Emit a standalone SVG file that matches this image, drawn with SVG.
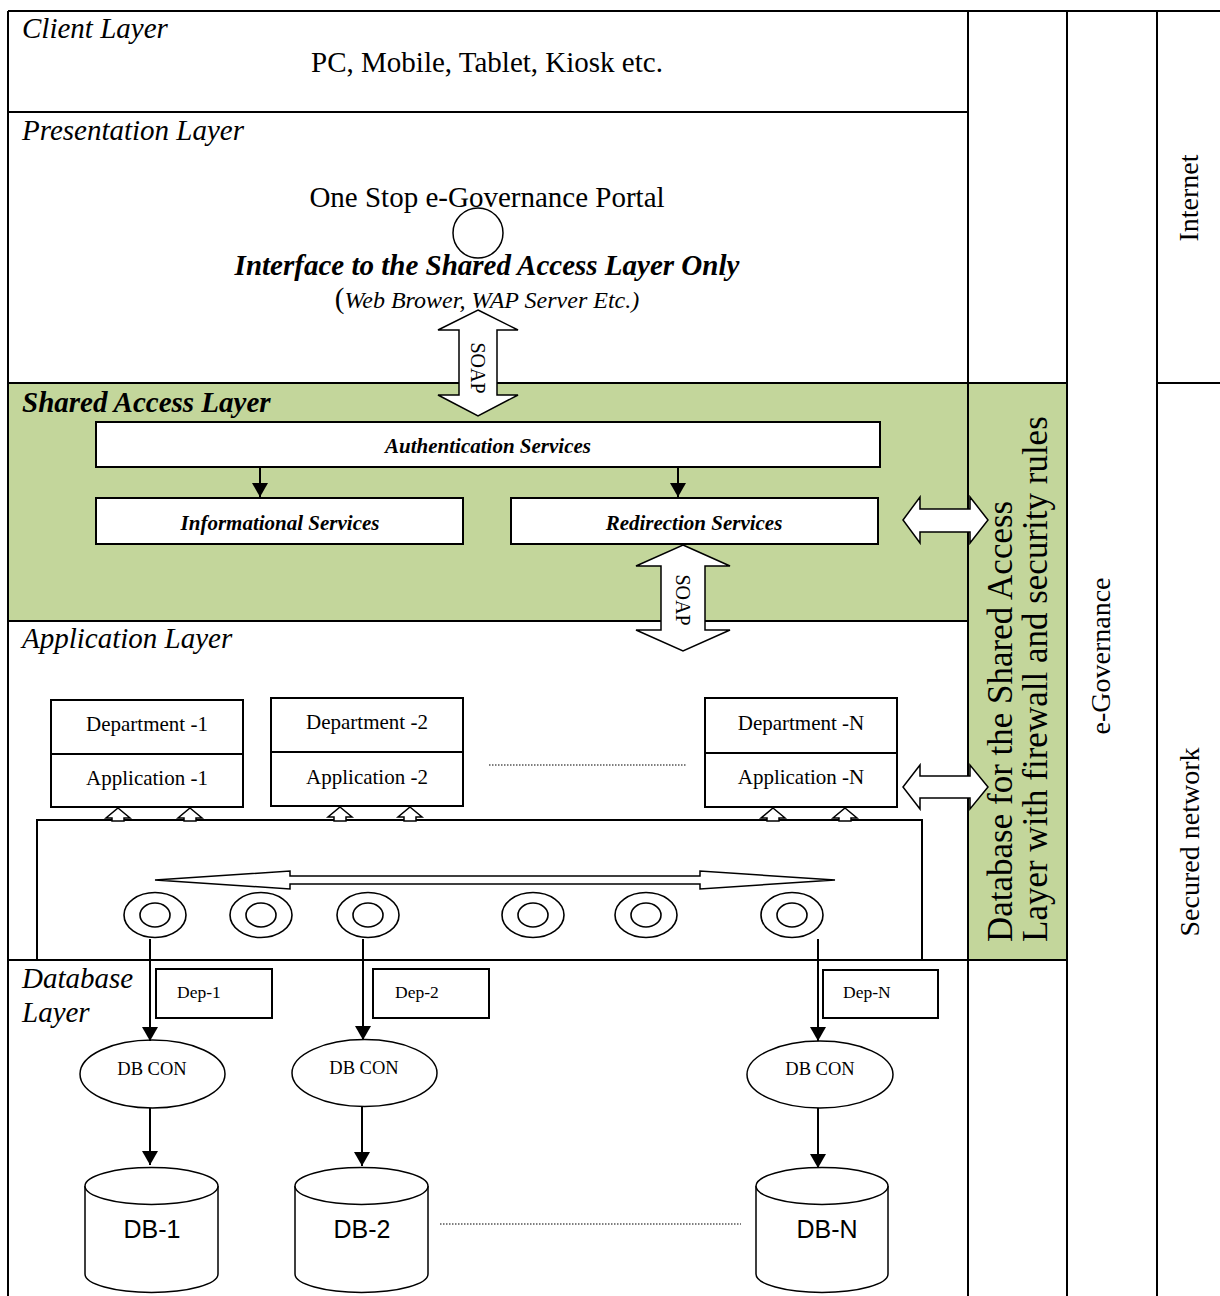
<svg xmlns="http://www.w3.org/2000/svg" width="1220" height="1296" viewBox="0 0 1220 1296">
<style>
.ser{font-family:"Liberation Serif","Times New Roman",serif;fill:#000}
.it{font-style:italic}
.bd{font-weight:bold}
.sans{font-family:"Liberation Sans",Arial,sans-serif;fill:#000}
.ln{stroke:#000;stroke-width:2;fill:none}
.bx{stroke:#000;stroke-width:2;fill:#fff}
.thin{stroke:#000;stroke-width:1.5;fill:#fff}
.dot{stroke:#000;stroke-width:1.2;stroke-dasharray:1.5 1.5;fill:none}
.conn{stroke:#000;stroke-width:2;fill:none;marker-end:url(#ah)}
</style>
<defs>
<marker id="ah" markerWidth="16" markerHeight="16" refX="14" refY="8" orient="auto" markerUnits="userSpaceOnUse">
<path d="M0,0 L14,8 L0,16 z" fill="#000"/>
</marker>
</defs>
<rect width="1220" height="1296" fill="#fff"/>

<g id="table">
<rect x="8" y="383" width="960" height="238" fill="#C3D69B"/>
<rect x="968" y="383" width="99" height="577" fill="#C3D69B"/>
<path class="ln" d="M8,11 H1220 M8,11 V1296 M968,11 V1296 M1067,11 V1296 M1157,11 V1296 M8,112 H968 M8,383 H1067 M1157,383 H1220 M8,621 H968 M8,960 H1067"/>
</g>

<g id="client-layer">
<text class="ser it" x="22" y="38" font-size="29">Client Layer</text>
<text class="ser" x="487" y="72" font-size="29" text-anchor="middle">PC, Mobile, Tablet, Kiosk etc.</text>
</g>

<g id="presentation-layer">
<text class="ser it" x="22" y="140" font-size="29">Presentation Layer</text>
<text class="ser" x="487" y="207" font-size="29" text-anchor="middle">One Stop e-Governance Portal</text>
<circle cx="478" cy="233" r="25" fill="none" stroke="#000" stroke-width="1.5"/>
<text class="ser it bd" x="487" y="275" font-size="29" text-anchor="middle">Interface to the Shared Access Layer Only</text>
<text class="ser it" x="487" y="308" font-size="24" text-anchor="middle"><tspan font-style="normal" font-size="29">(</tspan>Web Brower, WAP Server Etc.)</text>
</g>

<g id="shared-access-layer">
<text class="ser it bd" x="22" y="412" font-size="29">Shared Access Layer</text>
</g>
<g id="auth-services">
<rect class="bx" x="96" y="422" width="784" height="45"/>
<text class="ser it bd" x="488" y="453" font-size="21" text-anchor="middle">Authentication Services</text>
</g>
<g id="info-services">
<rect class="bx" x="96" y="498" width="367" height="46"/>
<text class="ser it bd" x="280" y="530" font-size="21" text-anchor="middle">Informational Services</text>
</g>
<g id="redirect-services">
<rect class="bx" x="511" y="498" width="367" height="46"/>
<text class="ser it bd" x="694" y="530" font-size="21" text-anchor="middle">Redirection Services</text>
</g>

<g id="application-layer">
<text class="ser it" x="22" y="648" font-size="29">Application Layer</text>
</g>

<g id="dept-1">
<rect class="bx" x="51" y="700" width="192" height="107"/>
<line class="ln" x1="51" y1="754" x2="243" y2="754"/>
<text class="ser" x="147" y="731" font-size="21" text-anchor="middle">Department -1</text>
<text class="ser" x="147" y="785" font-size="21" text-anchor="middle">Application -1</text>
</g>
<g id="dept-2">
<rect class="bx" x="271" y="698" width="192" height="108"/>
<line class="ln" x1="271" y1="752" x2="463" y2="752"/>
<text class="ser" x="367" y="729" font-size="21" text-anchor="middle">Department -2</text>
<text class="ser" x="367" y="784" font-size="21" text-anchor="middle">Application -2</text>
</g>
<g id="dept-n">
<rect class="bx" x="705" y="698" width="192" height="109"/>
<line class="ln" x1="705" y1="753" x2="897" y2="753"/>
<text class="ser" x="801" y="730" font-size="21" text-anchor="middle">Department -N</text>
<text class="ser" x="801" y="784" font-size="21" text-anchor="middle">Application -N</text>
</g>
<line class="dot" x1="489" y1="765" x2="687" y2="765"/>

<g id="bus">
<rect class="bx" x="37" y="820" width="885" height="140"/>
<path class="thin" d="M155,880 L290,871 L290,876 L700,876 L700,871 L835,880 L700,889 L700,884 L290,884 L290,889 Z"/>
<g fill="none" stroke="#000" stroke-width="1.6">
<ellipse cx="155" cy="915" rx="31" ry="22.5"/><ellipse cx="155" cy="915" rx="15" ry="12"/>
<ellipse cx="261" cy="915" rx="31" ry="22.5"/><ellipse cx="261" cy="915" rx="15" ry="12"/>
<ellipse cx="368" cy="915" rx="31" ry="22.5"/><ellipse cx="368" cy="915" rx="15" ry="12"/>
<ellipse cx="533" cy="915" rx="31" ry="22.5"/><ellipse cx="533" cy="915" rx="15" ry="12"/>
<ellipse cx="646" cy="915" rx="31" ry="22.5"/><ellipse cx="646" cy="915" rx="15" ry="12"/>
<ellipse cx="792" cy="915" rx="31" ry="22.5"/><ellipse cx="792" cy="915" rx="15" ry="12"/>
</g>
</g>

<g id="database-layer">
<text class="ser it" x="22" y="988" font-size="29">Database</text>
<text class="ser it" x="22" y="1022" font-size="29">Layer</text>
</g>

<g id="dep-1"><rect class="bx" x="156" y="969" width="116" height="49"/><text class="ser" x="177" y="998" font-size="17.5">Dep-1</text></g>
<g id="dep-2"><rect class="bx" x="373" y="969" width="116" height="49"/><text class="ser" x="395" y="998" font-size="17.5">Dep-2</text></g>
<g id="dep-n"><rect class="bx" x="823" y="970" width="115" height="48"/><text class="ser" x="843" y="998" font-size="17.5">Dep-N</text></g>

<g id="dbcon-1"><ellipse class="thin" cx="152.5" cy="1074" rx="72.5" ry="34"/><text class="ser" x="152" y="1075" font-size="18.5" text-anchor="middle">DB CON</text></g>
<g id="dbcon-2"><ellipse class="thin" cx="364.5" cy="1073" rx="72.5" ry="33.5"/><text class="ser" x="364" y="1074" font-size="18.5" text-anchor="middle">DB CON</text></g>
<g id="dbcon-n"><ellipse class="thin" cx="820" cy="1074.5" rx="73" ry="33.5"/><text class="ser" x="820" y="1075" font-size="18.5" text-anchor="middle">DB CON</text></g>

<g id="db-1">
<path class="thin" d="M85,1186 L85,1274 A66.5,18.5 0 0 0 218,1274 L218,1186"/>
<ellipse class="thin" cx="151.5" cy="1186" rx="66.5" ry="18.5"/>
<text class="sans" x="152" y="1238" font-size="25" text-anchor="middle">DB-1</text>
</g>
<g id="db-2">
<path class="thin" d="M295,1186 L295,1274 A66.5,18.5 0 0 0 428,1274 L428,1186"/>
<ellipse class="thin" cx="361.5" cy="1186" rx="66.5" ry="18.5"/>
<text class="sans" x="362" y="1238" font-size="25" text-anchor="middle">DB-2</text>
</g>
<g id="db-n">
<path class="thin" d="M756,1186 L756,1274 A66,18.5 0 0 0 888,1274 L888,1186"/>
<ellipse class="thin" cx="822" cy="1186" rx="66" ry="18.5"/>
<text class="sans" x="827" y="1238" font-size="25" text-anchor="middle">DB-N</text>
</g>
<line class="dot" x1="440" y1="1224" x2="741" y2="1224"/>

<g id="side-columns">
<text class="ser" transform="translate(1012,942) rotate(-90)" font-size="35">Database for the Shared Access</text>
<text class="ser" transform="translate(1047,942) rotate(-90)" font-size="35">Layer with firewall and security rules</text>
<text class="ser" transform="translate(1110,656) rotate(-90)" font-size="28" text-anchor="middle">e-Governance</text>
<text class="ser" transform="translate(1198,198) rotate(-90)" font-size="28" text-anchor="middle">Internet</text>
<text class="ser" transform="translate(1199,842) rotate(-90)" font-size="28" text-anchor="middle">Secured network</text>
</g>

<g id="connectors">
<path class="thin" d="M478,310 L518,330 L497,330 L497,395 L518,395 L478,416 L438,395 L459,395 L459,330 L438,330 Z"/>
<text class="ser" transform="translate(471,368) rotate(90)" font-size="20" text-anchor="middle">SOAP</text>
<path class="thin" d="M683,545 L730,566 L705,566 L705,630 L730,630 L683,651 L636,630 L661,630 L661,566 L636,566 Z"/>
<text class="ser" transform="translate(676,600) rotate(90)" font-size="20" text-anchor="middle">SOAP</text>
<path class="thin" d="M903,520 L920,497 L920,509 L970,509 L970,497 L988,520 L970,543 L970,532 L920,532 L920,543 Z"/>
<path class="thin" d="M903,787 L920,765 L920,776 L970,776 L970,765 L988,787 L970,809 L970,798 L920,798 L920,809 Z"/>
<g class="thin">
<path d="M118,808 L130,818 L124,818 L124,821 L112,821 L112,818 L106,818 Z"/>
<path d="M190,808 L202,818 L196,818 L196,821 L184,821 L184,818 L178,818 Z"/>
<path d="M340,807 L352,817 L346,817 L346,821 L334,821 L334,817 L328,817 Z"/>
<path d="M410,807 L422,817 L416,817 L416,821 L404,821 L404,817 L398,817 Z"/>
<path d="M773,808 L785,818 L779,818 L779,821 L767,821 L767,818 L761,818 Z"/>
<path d="M845,808 L857,818 L851,818 L851,821 L839,821 L839,818 L833,818 Z"/>
</g>
<line class="conn" x1="260" y1="467" x2="260" y2="497"/>
<line class="conn" x1="678" y1="467" x2="678" y2="497"/>
<line class="conn" x1="150" y1="939" x2="150" y2="1041"/>
<line class="conn" x1="363" y1="939" x2="363" y2="1040"/>
<line class="conn" x1="818" y1="939" x2="818" y2="1041"/>
<line class="conn" x1="150" y1="1108" x2="150" y2="1165"/>
<line class="conn" x1="362" y1="1107" x2="362" y2="1166"/>
<line class="conn" x1="818" y1="1108" x2="818" y2="1168"/>
</g>
</svg>
